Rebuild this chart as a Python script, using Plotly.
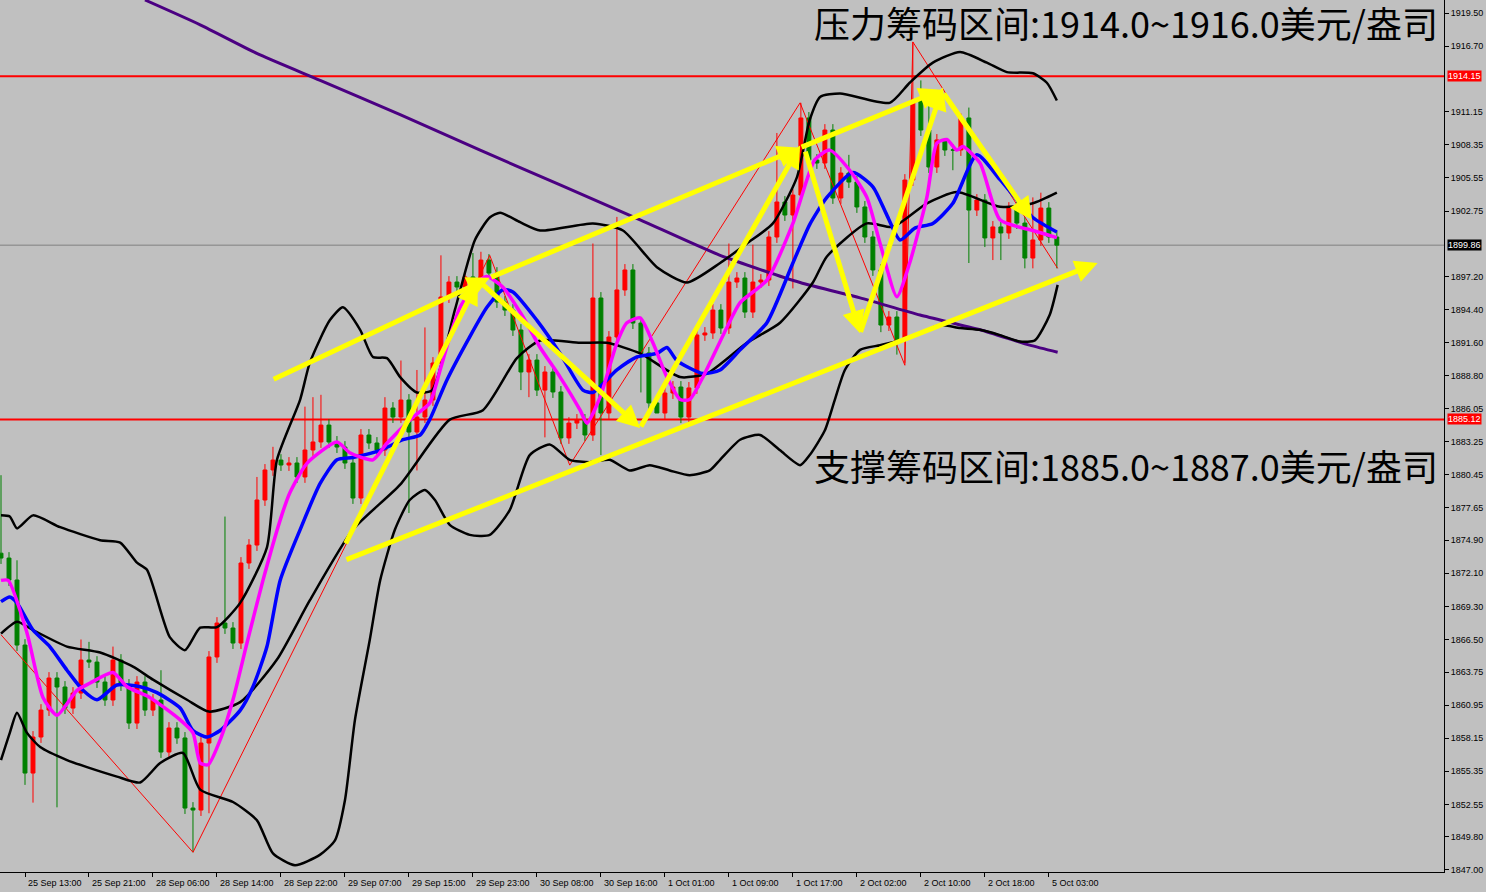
import plotly.graph_objects as go

# ---------------- data ----------------
OPEN0 = 1873.80
CLOSES = [1873.39,1871.53,1866.03,1855.20,1858.25,1860.53,1863.24,1862.48,1860.70,1861.97,
          1864.76,1864.59,1862.90,1861.38,1864.76,1862.65,1859.43,1862.90,1860.53,1861.38,
          1856.98,1859.01,1858.17,1852.24,1852.07,1857.74,1865.02,1867.89,1867.47,1866.20,
          1872.97,1874.49,1878.30,1880.84,1881.68,1881.26,1881.43,1880.25,1882.53,1883.21,
          1884.64,1883.21,1882.78,1881.43,1878.47,1883.80,1883.12,1882.53,1886.08,1885.32,
          1886.76,1884.05,1885.32,1886.76,1889.89,1895.47,1896.74,1896.32,1897.17,1897.08,
          1898.60,1897.50,1895.05,1894.37,1892.68,1889.13,1890.14,1887.60,1889.13,1887.44,
          1883.55,1884.81,1885.07,1883.80,1895.39,1885.66,1892.09,1896.07,1897.76,1893.27,
          1890.74,1886.51,1885.66,1887.35,1887.86,1885.32,1887.78,1892.26,1892.43,1894.37,
          1892.85,1896.74,1897.08,1894.20,1896.74,1896.91,1900.55,1903.51,1902.41,1904.10,
          1910.62,1907.06,1906.81,1909.60,1903.85,1905.96,1905.20,1903.09,1900.55,1897.76,
          1893.10,1893.78,1891.84,1905.37,1912.14,1909.60,1906.47,1908.76,1907.91,1907.91,
          1910.62,1902.83,1903.68,1900.47,1901.40,1900.89,1903.00,1901.73,1898.77,1900.30,
          1903.00,1900.55,1899.86]
HIGH_MARKS = {0:1880.4,2:1873.2,10:1866.5,11:1866.3,14:1865.9,20:1863.9,28:1876.9,32:1880.25,
              34:1882.8,38:1886.2,39:1887.0,40:1887.2,48:1887.0,50:1890.1,52:1889.3,53:1892.9,
              55:1899.0,59:1899.2,60:1899.3,74:1900.0,77:1902.25,91:1900.0,94:1899.9,97:1909.35,
              100:1911.9,106:1907.5,114:1917.05,115:1913.8,116:1911.7,118:1908.75,120:1911.0,
              121:1911.5,127:1903.9,129:1903.9,130:1904.3}
LOW_MARKS = {3:1854.2,4:1852.7,7:1852.3,24:1848.5,26:1851.8,51:1877.2,52:1880.8,65:1887.6,
             66:1887.0,68:1883.6,75:1882.1,80:1887.4,82:1885.9,85:1884.8,99:1896.2,110:1892.5,
             112:1890.6,113:1889.9,119:1906.2,121:1898.35,123:1899.7,124:1898.6,125:1898.6,
             128:1897.9,129:1897.9,132:1897.9}
WICK = 0.5

MAGENTA = [(0,1871.5),(0.9,1871.5),(3.25,1867.05),(5.25,1861.6),(7,1860.1),(9.5,1862.2),(11.1,1862.8),
           (14,1863.7),(15.75,1862.5),(18.6,1861.6),(22.4,1859.7),(24,1858.6),(24.9,1856.05),(25.9,1855.9),
           (27.4,1858.0),(29,1861.4),(30.75,1866.2),(32.75,1871.5),(34.9,1876.6),(36.1,1878.9),(38.25,1881.4),
           (42,1883.2),(43.6,1882.3),(46.5,1881.7),(48.25,1883.1),(51.5,1885.3),(53.6,1886.5),(54.9,1889.3),
           (56.1,1892.1),(57.4,1894.6),(59.5,1896.7),(60.75,1897.2),(62.75,1896.3),(65.25,1893.8),(67.4,1891.2),
           (69.9,1888.7),(72.4,1885.9),(73.25,1884.8),(74.9,1887.0),(77,1891.6),(78.25,1893.3),(79.9,1893.7),
           (81.5,1891.6),(83.25,1888.7),(84.9,1886.8),(86.1,1886.8),(87.75,1888.7),(90.75,1892.9),(92.4,1895.0),
           (95.75,1896.9),(99,1901.7),(101.75,1907.1),(103.6,1907.9),(106.1,1906.2),(108.25,1903.9),
           (109.9,1900.0),(112,1895.5),(113.6,1898.35),(115.75,1903.9),(117,1908.5),(118.25,1908.8),
           (119.5,1907.9),(120.25,1908.2),(122.4,1906.8),(124.9,1902.0),(129,1901.1),(132,1900.5)]
BLUE = [(0,1869.7),(1.1,1870.1),(2,1869.6),(4,1867.3),(6.1,1865.9),(8.25,1863.9),(10.25,1862.2),(12,1861.4),
        (14.5,1862.65),(17.4,1862.5),(19.5,1862.0),(22.4,1860.7),(24,1858.8),(25.75,1858.25),(27.4,1858.8),
        (29.9,1860.5),(31.5,1862.5),(33.25,1865.9),(34.9,1871.5),(37.4,1875.8),(39.9,1879.7),(42,1881.7),
        (44,1881.9),(47.4,1882.5),(50.25,1883.4),(52.4,1883.8),(53.6,1885.1),(55.75,1888.45),(58.6,1892.1),
        (60.75,1894.6),(62.75,1896.1),(64,1895.9),(67,1893.5),(69.9,1890.7),(72.75,1887.6),(74,1887.4),
        (77,1889.3),(79.5,1890.4),(82,1890.7),(83.25,1891.2),(84.5,1890.1),(87.75,1889.0),(89.9,1889.3),
        (92.4,1891.0),(95.75,1893.3),(99,1898.35),(101.1,1901.6),(103.25,1903.9),(106.5,1906.0),(109,1904.8),
        (110.75,1902.4),(112.4,1900.3),(114.25,1901.3),(116.5,1901.7),(119,1903.4),(122,1907.5),
        (124.9,1905.4),(129,1902.2),(132,1900.97)]
BB_MID = [(0,1867.0),(2,1868.0),(4,1867.3),(8.25,1865.9),(12.4,1865.4),(16.5,1864.2),(19,1863.1),
          (23.25,1861.4),(26,1860.4),(29.9,1861.2),(34.5,1864.8),(38.6,1869.8),(44,1875.8),(49.9,1879.6),
          (56.1,1885.1),(60.25,1885.9),(64.5,1890.3),(67.4,1891.8),(72.4,1891.6),(75.75,1891.6),
          (79.9,1890.7),(84.9,1888.7),(88.25,1889.0),(93.25,1891.6),(97.4,1893.3),(101.5,1896.7),
          (103.25,1898.9),(108.25,1901.7),(111.5,1901.4),(115.75,1903.4),(119.5,1904.35),(124.9,1903.1),
          (129,1903.4),(132,1904.3)]
BB_UP = [(0,1877.0),(1.1,1876.9),(2,1875.9),(4,1877.0),(7.4,1876.0),(12.4,1874.9),(14.9,1874.7),(17,1873.0),
         (18.25,1872.4),(21.1,1866.7),(23,1865.6),(24.9,1867.5),(27,1867.55),(29.9,1869.6),(33.25,1874.3),
         (34.5,1881.7),(37.4,1886.8),(38.6,1889.9),(41.1,1893.5),(42.75,1894.6),(44.9,1892.7),(46.5,1890.4),
         (48.25,1890.3),(49.9,1888.7),(52,1887.4),(53.9,1887.6),(56.75,1894.4),(59.25,1900.3),(61.1,1902.2),
         (62.4,1902.6),(64.9,1901.8),(67.4,1901.1),(74,1901.7),(77.75,1901.1),(82,1898.0),(85.75,1896.7),
         (89.9,1898.35),(93.25,1900.0),(96.5,1901.7),(99.5,1905.6),(101.1,1910.45),(102.4,1912.4),
         (104.9,1912.7),(111.1,1911.9),(113.6,1913.6),(116.5,1915.3),(119.9,1916.2),(123.25,1915.3),
         (125.75,1914.5),(129,1914.4),(130.75,1913.6),(132,1912.1)]
BB_LOW = [(0,1856.3),(1.1,1858.6),(2,1860.3),(3.25,1858.6),(4.9,1857.4),(8.25,1856.3),(10.75,1855.7),
          (14.5,1854.9),(17.4,1854.4),(19.9,1856.05),(22.75,1856.9),(24.9,1853.8),(29,1852.75),(32,1851.2),
          (34,1848.4),(36.75,1847.4),(39.9,1848.3),(41.75,1849.5),(43,1852.9),(44.25,1859.7),(46.1,1866.45),
          (47.4,1871.5),(49.25,1875.8),(51.1,1878.3),(53,1879.15),(54.25,1878.3),(56.1,1876.2),(58.6,1875.35),
          (61.1,1875.35),(63.6,1877.45),(66.1,1882.1),(68.6,1883.0),(71.1,1881.7),(73.6,1881.5),(76.1,1881.7),
          (78.6,1880.8),(81.1,1881.25),(83.6,1880.8),(86.1,1880.4),(88.6,1880.8),(89.9,1881.7),(92.4,1883.4),
          (94.9,1883.8),(97.4,1882.5),(99.9,1881.25),(101.1,1882.1),(103,1884.2),(104.25,1886.8),
          (105.5,1889.3),(107.4,1891.0),(109.9,1891.4),(112.4,1891.8),(114.9,1892.4),(117.4,1893.1),
          (119.9,1892.85),(122.4,1892.7),(124.9,1892.25),(127.4,1891.7),(129.25,1891.8),(131.1,1893.95),
          (132.1,1896.5)]
MA_LONG = [(18,1920.6),(24.9,1918.5),(32.4,1915.95),(39.9,1913.8),(49.9,1910.9),(59.9,1907.9),
           (69.9,1904.95),(79.9,1902.0),(89.9,1899.0),(99.9,1896.7),(107.4,1895.4),(114.9,1893.95),
           (122.4,1892.7),(128.6,1891.4),(132.1,1890.8)]
ZIGZAG = [(0,1866.9),(24,1848.5),(61.1,1899.0),(71.1,1881.25),(99.9,1911.9),(113,1889.7),(114,1917.05),
          (132.1,1897.9)]
ARROWS = [((33.9,1888.45),(61.1,1897.1)),((61.1,1897.1),(99.9,1908.1)),((99.9,1908.1),(117.6,1913.0)),
          ((43,1873.2),(137.1,1898.35)),((43,1874.5),(59.6,1896.75)),((59.9,1896.75),(79.9,1884.4)),
          ((79.9,1884.4),(99.9,1908.3)),((100.5,1907.9),(107.4,1892.4)),((107.4,1892.4),(117.75,1913.2)),
          ((117.75,1912.8),(128.9,1902.0))]
RESIST = 1914.15
SUPPORT = 1885.12
LAST = 1899.86
Y_TICKS = [1919.50,1916.70,1911.15,1908.35,1905.55,1902.75,1897.20,1894.40,1891.60,1888.80,1886.05,
           1883.25,1880.45,1877.65,1874.90,1872.10,1869.30,1866.50,1863.75,1860.95,1858.15,1855.35,
           1852.55,1849.80,1847.00]
X_TICK_BARS = [3,11,19,27,35,43,51,59,67,75,83,91,99,107,115,123,131]
X_TICK_LABELS = ["25 Sep 13:00","25 Sep 21:00","28 Sep 06:00","28 Sep 14:00","28 Sep 22:00",
                 "29 Sep 07:00","29 Sep 15:00","29 Sep 23:00","30 Sep 08:00","30 Sep 16:00",
                 "1 Oct 01:00","1 Oct 09:00","1 Oct 17:00","2 Oct 02:00","2 Oct 10:00","2 Oct 18:00",
                 "5 Oct 03:00"]
TEXT_TOP = "压力筹码区间:1914.0~1916.0美元/盎司"
TEXT_BOTTOM = "支撑筹码区间:1885.0~1887.0美元/盎司"

# ---------------- build ----------------
n = len(CLOSES)
xs = list(range(n))
opens = [OPEN0] + CLOSES[:-1]
highs = [HIGH_MARKS.get(i, max(o, c) + WICK) for i, (o, c) in enumerate(zip(opens, CLOSES))]
lows = [LOW_MARKS.get(i, min(o, c) - WICK) for i, (o, c) in enumerate(zip(opens, CLOSES))]
highs = [max(h, o, c) for h, o, c in zip(highs, opens, CLOSES)]
lows = [min(l, o, c) for l, o, c in zip(lows, opens, CLOSES)]

fig = go.Figure()

def line(pts, color, width):
    fig.add_trace(go.Scatter(x=[p[0] for p in pts], y=[p[1] for p in pts], mode="lines",
                             line=dict(color=color, width=width, shape="spline", smoothing=0.6),
                             hoverinfo="skip", showlegend=False))

for lvl, col, w in [(RESIST, "#ff0000", 2), (SUPPORT, "#ff0000", 2), (LAST, "#808080", 1)]:
    fig.add_hline(y=lvl, line=dict(color=col, width=w), layer="below")

fig.add_trace(go.Scatter(x=[p[0] for p in ZIGZAG], y=[p[1] for p in ZIGZAG], mode="lines",
                         line=dict(color="#ff0000", width=1), hoverinfo="skip", showlegend=False))
line(MA_LONG, "#4b0082", 3)
line(BB_UP, "#000000", 2.5)
line(BB_MID, "#000000", 2.5)
line(BB_LOW, "#000000", 2.5)

fig.add_trace(go.Candlestick(x=xs, open=opens, high=highs, low=lows, close=CLOSES,
                             increasing=dict(line=dict(color="#ff0000", width=1), fillcolor="#ff0000"),
                             decreasing=dict(line=dict(color="#008000", width=1), fillcolor="#008000"),
                             whiskerwidth=0, showlegend=False, hoverinfo="skip"))
line(BLUE, "#0000ff", 3.5)
line(MAGENTA, "#ff00ff", 3.5)

anns = []
for (x0, y0), (x1, y1) in ARROWS:
    anns.append(dict(x=x1, y=y1, ax=x0, ay=y0, xref="x", yref="y", axref="x", ayref="y",
                     text="", showarrow=True, arrowhead=2, arrowsize=0.9, arrowwidth=5,
                     arrowcolor="#ffff00"))
anns.append(dict(x=1440/1444, y=1-22/872, xref="paper", yref="paper", xanchor="right", yanchor="middle",
                 text=TEXT_TOP, showarrow=False, font=dict(family="Noto Sans CJK SC", size=36, color="#000")))
anns.append(dict(x=1440/1444, y=1-465/872, xref="paper", yref="paper", xanchor="right", yanchor="middle",
                 text=TEXT_BOTTOM, showarrow=False, font=dict(family="Noto Sans CJK SC", size=36, color="#000")))
for lvl, bg in [(RESIST, "#ff0000"), (SUPPORT, "#ff0000"), (LAST, "#000000")]:
    anns.append(dict(x=1.0, y=lvl, xref="paper", yref="y", xanchor="left", yanchor="middle",
                     text=f"{lvl:.2f}", showarrow=False, bgcolor=bg, borderpad=0, xshift=3,
                     font=dict(family="Liberation Sans", size=9, color="#ffffff")))
for b, lab in zip(X_TICK_BARS, X_TICK_LABELS):
    anns.append(dict(x=b, y=0, xref="x", yref="paper", xanchor="left", yanchor="top", yshift=-4,
                     xshift=1, text=lab, showarrow=False,
                     font=dict(family="Liberation Sans", size=9, color="#000")))

fig.update_layout(
    width=1486, height=892, margin=dict(l=0, r=42, t=0, b=20),
    paper_bgcolor="#c0c0c0", plot_bgcolor="#c0c0c0",
    annotations=anns, showlegend=False,
    xaxis=dict(range=[-0.125, 180.4], showgrid=False, zeroline=False, rangeslider=dict(visible=False),
               tickvals=X_TICK_BARS, ticktext=[""] * len(X_TICK_BARS), ticks="outside", ticklen=4,
               tickcolor="#000", showline=True, linecolor="#000", linewidth=1),
    yaxis=dict(range=[1846.83, 1920.6], side="right", showgrid=False, zeroline=False,
               tickvals=Y_TICKS, ticktext=[f"{v:.2f}" for v in Y_TICKS], ticks="outside", ticklen=4,
               tickcolor="#000", showline=True, linecolor="#000", linewidth=1,
               tickfont=dict(family="Liberation Sans", size=9, color="#000")),
)
fig.write_html("out.html", config={"displayModeBar": False},
               post_script="document.body.style.margin='0';document.body.style.overflow='hidden';")
